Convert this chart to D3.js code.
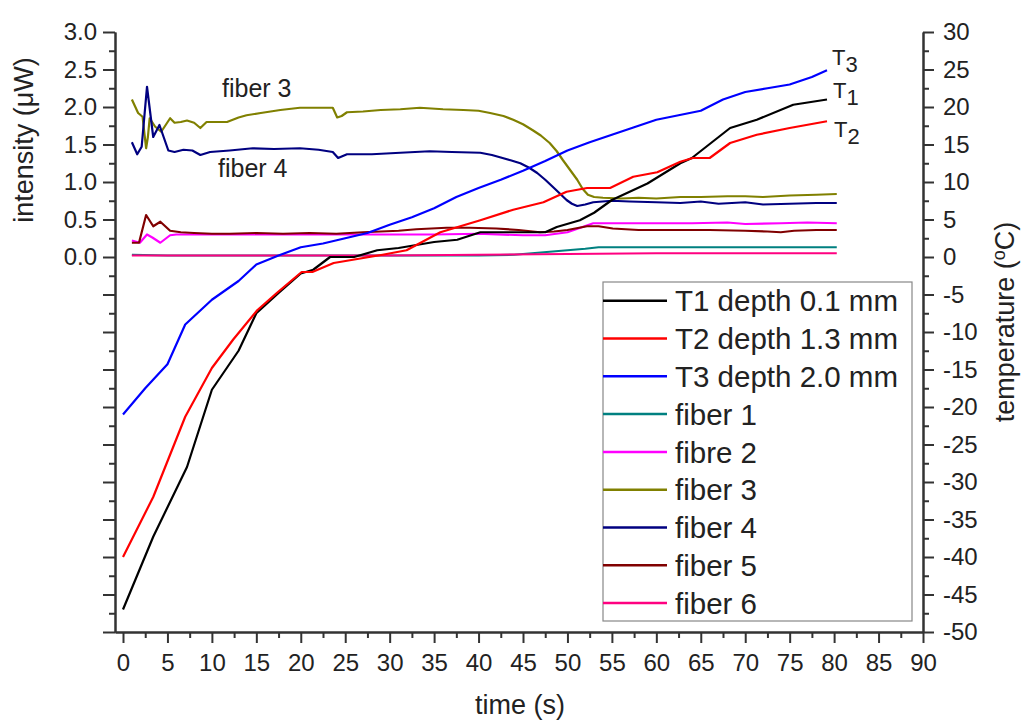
<!DOCTYPE html>
<html>
<head>
<meta charset="utf-8">
<script src="https://cdn.jsdelivr.net/npm/d3@7"></script>
<style>
  body { margin: 0; background: #fff; }
  text { font-family: "Liberation Sans", Arial, sans-serif; fill: #222; }
</style>
</head>
<body>
<script>
// Thermocouple readings: [time (s), temperature (°C)]
var t1Depth01 = [[0, -47], [3.4, -37.3], [7.2, -28], [10, -17.7], [13, -12.5], [15, -7.5],
  [17.5, -4.8], [20, -2.2], [21.4, -1.7], [23.3, 0], [26, 0], [28.6, 0.9], [31, 1.2],
  [35, 2.0], [37.6, 2.3], [40.2, 3.3], [44, 3.3], [47.5, 3.3], [48.8, 4.0], [51.4, 4.9],
  [53, 5.9], [55, 7.6], [59, 9.8], [62.7, 12.5], [64, 13.2], [68.3, 17.2], [71.3, 18.3],
  [75.4, 20.3], [79.2, 21.0]];
var t2Depth13 = [[0, -40], [3.4, -32], [7, -21.3], [10, -14.8], [12.4, -11], [15.1, -7.1],
  [17.3, -4.8], [20.1, -2.0], [21.3, -2.0], [23.7, -0.8], [26.7, -0.2], [29.2, 0.3],
  [31.9, 0.9], [35.7, 3.3], [40.2, 4.9], [43.9, 6.3], [47.3, 7.3], [49.9, 8.7], [52.2, 9.2],
  [54.8, 9.2], [57.4, 10.7], [60.1, 11.3], [62.7, 12.7], [64.1, 13.2], [66, 13.2],
  [68.3, 15.2], [71.3, 16.3], [75, 17.2], [79.2, 18.1]];
var t3Depth20 = [[0, -21], [2.5, -17.5], [5, -14.3], [7, -9], [10, -5.7], [13, -3.2],
  [15, -1], [17.5, 0.2], [20, 1.3], [22.5, 1.8], [25, 2.5], [27.5, 3.2], [30, 4.3],
  [32.5, 5.3], [35, 6.5], [37.5, 8.0], [40, 9.2], [42.5, 10.3], [45, 11.5], [47.5, 12.8],
  [50, 14.2], [52.5, 15.3], [55, 16.3], [57.5, 17.3], [60, 18.3], [62.5, 18.9], [65, 19.5],
  [67.5, 21.0], [70, 22.0], [72.5, 22.5], [75, 23.0], [77.5, 24.0], [79.2, 24.9]];

// Fiber intensities: [time (s), intensity (µW)]
var fiber1 = [[1, 0.03], [5, 0.02], [10, 0.02], [20, 0.02], [30, 0.02], [40, 0.02], [44, 0.03],
  [46, 0.05], [48, 0.07], [50, 0.09], [52, 0.11], [53.5, 0.13], [60, 0.13], [70, 0.13], [80.3, 0.13]];
var fibre2 = [[1, 0.22], [1.9, 0.19], [2.7, 0.30], [3.3, 0.26], [4.2, 0.19], [5.3, 0.29], [6, 0.30],
  [10, 0.30], [15, 0.30], [20, 0.30], [25, 0.30], [30, 0.30], [35, 0.30], [40, 0.31], [45, 0.29],
  [47.5, 0.29], [50, 0.33], [52.9, 0.45], [56, 0.45], [60, 0.45], [64, 0.45], [68, 0.46],
  [70, 0.44], [74, 0.45], [77, 0.46], [80.3, 0.45]];
var fiber3 = [[1, 2.10], [1.7, 1.92], [2.2, 1.87], [2.6, 1.45], [2.8, 1.60], [3, 1.85], [3.6, 1.74],
  [4.3, 1.67], [5.3, 1.85], [5.8, 1.79], [6.5, 1.80], [7.2, 1.82], [8, 1.79], [8.7, 1.72],
  [9.4, 1.80], [10.5, 1.80], [11.7, 1.80], [13, 1.86], [13.9, 1.89], [15.5, 1.92], [17.7, 1.96],
  [19.9, 1.99], [22, 1.99], [23.6, 1.99], [24.1, 1.86], [24.6, 1.88], [25.2, 1.93], [27, 1.94],
  [29, 1.96], [31.2, 1.97], [33.4, 1.99], [36, 1.97], [38.3, 1.96], [40, 1.95], [41.3, 1.92],
  [42.8, 1.88], [43.9, 1.83], [45, 1.77], [46.1, 1.69], [47, 1.62], [48, 1.52], [48.8, 1.41],
  [49.5, 1.29], [50.3, 1.16], [51.1, 1.03], [51.7, 0.91], [52.3, 0.83], [53, 0.80], [54, 0.79],
  [56, 0.78], [58, 0.79], [60, 0.78], [62.7, 0.80], [65, 0.80], [68, 0.81], [70, 0.81],
  [72, 0.80], [75, 0.82], [78, 0.83], [80.3, 0.84]];
var fiber4 = [[1, 1.53], [1.6, 1.37], [2.1, 1.47], [2.7, 2.27], [3.4, 1.60], [4.1, 1.76],
  [5.1, 1.42], [5.8, 1.40], [6.8, 1.43], [7.8, 1.42], [8.7, 1.36], [9.8, 1.40], [12, 1.42],
  [14.6, 1.45], [17, 1.44], [19.9, 1.45], [22, 1.43], [23.6, 1.40], [24.2, 1.32], [25.2, 1.37],
  [28, 1.37], [31.2, 1.39], [34.5, 1.41], [37, 1.40], [40.2, 1.39], [41.5, 1.36], [42.4, 1.33],
  [43.6, 1.29], [44.7, 1.25], [45.7, 1.19], [46.6, 1.12], [47.5, 1.03], [48.4, 0.93],
  [49.2, 0.84], [49.9, 0.76], [50.5, 0.71], [51.1, 0.68], [52, 0.70], [52.9, 0.73], [55, 0.75],
  [57, 0.74], [60, 0.73], [62.7, 0.72], [65, 0.74], [67, 0.71], [70, 0.73], [72, 0.70],
  [75, 0.71], [78, 0.72], [80.3, 0.72]];
var fiber5 = [[1, 0.19], [1.8, 0.19], [2.6, 0.56], [3.4, 0.41], [4.2, 0.47], [5.3, 0.35],
  [6.5, 0.33], [8, 0.32], [10, 0.31], [12, 0.31], [15, 0.32], [18, 0.31], [21, 0.32], [24, 0.31],
  [27, 0.33], [31, 0.35], [33, 0.37], [36.4, 0.39], [39, 0.39], [42, 0.38], [44.5, 0.36],
  [46.9, 0.33], [48.5, 0.34], [50, 0.36], [52.2, 0.41], [53.5, 0.41], [55.1, 0.38], [58, 0.36],
  [62, 0.36], [66, 0.36], [70, 0.35], [72.5, 0.34], [74, 0.33], [75.5, 0.35], [78, 0.36], [80.3, 0.36]];
var fiber6 = [[1, 0.02], [10, 0.02], [20, 0.02], [30, 0.02], [40, 0.03], [50, 0.04], [60, 0.05],
  [70, 0.05], [80.3, 0.05]];

// Tick values for the three axes
var timeTicks = d3.range(0, 91, 5);
var intensityTicks = d3.range(-5, 3.01, 0.5);
var temperatureTicks = d3.range(-50, 31, 5);

// Series in legend order
var series = [
  { name: "T1 depth 0.1 mm", data: t1Depth01, axis: "temp", color: "#000000" },
  { name: "T2 depth 1.3 mm", data: t2Depth13, axis: "temp", color: "#ff0000" },
  { name: "T3 depth 2.0 mm", data: t3Depth20, axis: "temp", color: "#0000ff" },
  { name: "fiber 1", data: fiber1, axis: "int", color: "#008080" },
  { name: "fibre 2", data: fibre2, axis: "int", color: "#ff00ff" },
  { name: "fiber 3", data: fiber3, axis: "int", color: "#808000" },
  { name: "fiber 4", data: fiber4, axis: "int", color: "#000080" },
  { name: "fiber 5", data: fiber5, axis: "int", color: "#800000" },
  { name: "fiber 6", data: fiber6, axis: "int", color: "#ff0080" }
];

var svgWidth = 1023;
var svgHeight = 722;

// Plot area edges
var plot = { left: 115, right: 923, top: 32, bottom: 632 };

var svg = d3.select("body")
  .append("svg")
  .attr("width", svgWidth)
  .attr("height", svgHeight);

var xScale = d3.scaleLinear().domain([-0.9, 90]).range([plot.left, plot.right]);
var yInt = d3.scaleLinear().domain([-5, 3]).range([plot.bottom, plot.top]);
var yTemp = d3.scaleLinear().domain([-50, 30]).range([plot.bottom, plot.top]);

function styleAxis(g, fontSize) {
  g.select(".domain").attr("stroke", "#333").attr("stroke-width", 2);
  g.selectAll(".tick line").attr("stroke", "#333").attr("stroke-width", 2);
  g.selectAll(".tick text").style("font-size", fontSize + "px")
    .style("font-family", "'Liberation Sans', Arial, sans-serif").attr("fill", "#222");
}

// Bottom axis: major + minor ticks
var xMinor = svg.append("g")
  .attr("transform", `translate(0, ${plot.bottom})`)
  .call(d3.axisBottom(xScale).tickValues(d3.range(2.5, 90, 5)).tickSize(6).tickSizeOuter(0).tickFormat(""));
styleAxis(xMinor, 24);
var xAxis = svg.append("g")
  .attr("transform", `translate(0, ${plot.bottom})`)
  .call(d3.axisBottom(xScale).tickValues(timeTicks).tickSize(11).tickSizeOuter(0).tickPadding(11));
styleAxis(xAxis, 24);

// Left axis: only the positive half is labelled
var yMinor = svg.append("g")
  .attr("transform", `translate(${plot.left}, 0)`)
  .call(d3.axisLeft(yInt).tickValues(d3.range(-4.75, 3, 0.5)).tickSize(6).tickSizeOuter(0).tickFormat(""));
styleAxis(yMinor, 24);
var yAxis = svg.append("g")
  .attr("transform", `translate(${plot.left}, 0)`)
  .call(d3.axisLeft(yInt).tickValues(intensityTicks).tickSize(12).tickSizeOuter(0).tickPadding(6)
    .tickFormat(d => d >= -0.001 ? Math.abs(d).toFixed(1) : ""));
styleAxis(yAxis, 24);

// Right axis (plain hyphen for negatives)
var rMinor = svg.append("g")
  .attr("transform", `translate(${plot.right}, 0)`)
  .call(d3.axisRight(yTemp).tickValues(d3.range(-47.5, 30, 5)).tickSize(6).tickSizeOuter(0).tickFormat(""));
styleAxis(rMinor, 24);
var rAxis = svg.append("g")
  .attr("transform", `translate(${plot.right}, 0)`)
  .call(d3.axisRight(yTemp).tickValues(temperatureTicks).tickSize(11).tickSizeOuter(0).tickPadding(9)
    .tickFormat(d => String(Math.round(d))));
styleAxis(rAxis, 24);

// Lines
var lineInt = d3.line().x(d => xScale(d[0])).y(d => yInt(d[1]));
var lineTemp = d3.line().x(d => xScale(d[0])).y(d => yTemp(d[1]));

// fibers first so the thermocouple curves sit on top
var drawOrder = series.slice(3).concat(series.slice(0, 3));
svg.append("g").selectAll("path")
  .data(drawOrder)
  .enter()
  .append("path")
  .attr("fill", "none")
  .attr("stroke", d => d.color)
  .attr("stroke-width", 2.2)
  .attr("stroke-linejoin", "round")
  .attr("d", d => d.axis === "temp" ? lineTemp(d.data) : lineInt(d.data));

// Axis titles
svg.append("text")
  .attr("transform", "translate(33, 140) rotate(-90)")
  .attr("text-anchor", "middle")
  .style("font-size", "27px")
  .text("intensity (\u03bcW)");

var tempTitle = svg.append("text")
  .attr("transform", "translate(1014, 322) rotate(-90)")
  .attr("text-anchor", "middle")
  .style("font-size", "27px");
tempTitle.append("tspan").text("temperature (");
tempTitle.append("tspan").attr("dy", -9).style("font-size", "18px").text("o");
tempTitle.append("tspan").attr("dy", 9).text("C)");

svg.append("text")
  .attr("x", 520)
  .attr("y", 714)
  .attr("text-anchor", "middle")
  .style("font-size", "27px")
  .text("time (s)");

// Curve annotations
svg.append("text").attr("x", 222).attr("y", 97).style("font-size", "25px").text("fiber 3");
svg.append("text").attr("x", 218).attr("y", 177).style("font-size", "25px").text("fiber 4");

var tLabels = [["3", 832, 65], ["1", 833, 98], ["2", 834, 137]];
tLabels.forEach(function(l) {
  var t = svg.append("text").attr("x", l[1]).attr("y", l[2]).style("font-size", "22px");
  t.append("tspan").text("T");
  t.append("tspan").attr("dy", 7).text(l[0]);
});

// Legend
var legend = svg.append("g");
legend.append("rect")
  .attr("x", 603).attr("y", 282)
  .attr("width", 309).attr("height", 339)
  .attr("fill", "#fff")
  .attr("stroke", "#888")
  .attr("stroke-width", 1.2);

var rows = legend.selectAll(".row")
  .data(series)
  .enter()
  .append("g")
  .attr("class", "row")
  .attr("transform", (d, i) => `translate(603, ${300.7 + i * 37.8})`);
rows.append("line")
  .attr("x1", 0).attr("x2", 64)
  .attr("stroke", d => d.color)
  .attr("stroke-width", 2.5);
rows.append("text")
  .attr("x", 72)
  .attr("dy", "0.36em")
  .style("font-size", "29.5px")
  .text(d => d.name);
</script>
</body>
</html>
